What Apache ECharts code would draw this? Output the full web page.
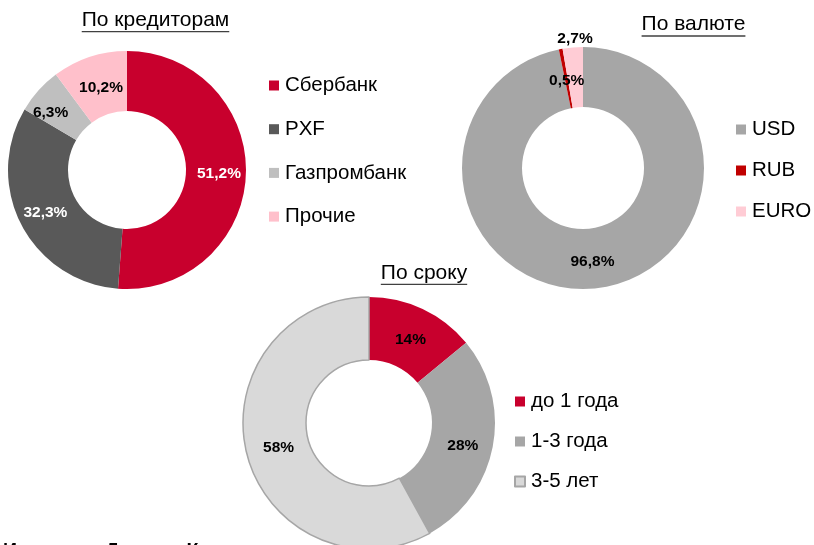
<!DOCTYPE html>
<html>
<head>
<meta charset="utf-8">
<script src="https://cdn.jsdelivr.net/npm/echarts@6/dist/echarts.min.js"></script>
<style>
  html, body { margin: 0; padding: 0; background: #fff; }
  #chart { width: 814px; height: 545px; }
</style>
</head>
<body>
<div id="chart"></div>
<script>
// данные
const creditorNames = ['Сбербанк', 'PXF', 'Газпромбанк', 'Прочие'];
const creditorValues = [51.2, 32.3, 6.3, 10.2];
const currencyNames = ['USD', 'RUB', 'EURO'];
const currencyValues = [96.8, 0.5, 2.7];
const termNames = ['до 1 года', '1-3 года', '3-5 лет'];
const termValues = [14, 28, 58];
const titles = ['По кредиторам', 'По валюте', 'По сроку'];
const sourceText = 'Источник: Данные Компании';

const FONT = "'Liberation Sans', Arial, sans-serif";
const titleSize = 21;

function pct(p) {
  return String(p.value).replace('.', ',') + '%';
}

// ширина текста для подчёркивания заголовка
function textWidth(t, size) {
  const ctx = document.createElement('canvas').getContext('2d');
  ctx.font = size + 'px ' + FONT;
  return ctx.measureText(t).width;
}

function donut(names, values, colors, center, radius, labelColors, extra) {
  return {
    type: 'pie',
    center: center,
    radius: radius,
    startAngle: 90,
    clockwise: true,
    silent: true,
    label: {
      show: true,
      position: 'inside',
      formatter: pct,
      fontFamily: FONT,
      fontWeight: 'bold',
      fontSize: 15.5,
    },
    labelLine: { show: false },
    emphasis: { disabled: true },
    data: names.map((n, i) => ({
      name: n,
      value: values[i],
      itemStyle: Object.assign({ color: colors[i], borderWidth: 0 }, (extra[i] || {}).itemStyle),
      label: Object.assign({ color: labelColors[i] }, (extra[i] || {}).label),
    })),
  };
}

function legend(names, left, top, gap) {
  return {
    data: names,
    orient: 'vertical',
    left: left,
    top: top,
    padding: 0,
    itemWidth: 10,
    itemHeight: 10,
    itemGap: gap,
    icon: 'rect',
    selectedMode: false,
    textStyle: { fontFamily: FONT, fontSize: 20.5, lineHeight: 20, color: '#000', padding: [0, 0, 0, 1] },
  };
}

function titleGraphic(t, cx, cy, uy) {
  const w = textWidth(t, titleSize);
  return [
    {
      type: 'text', x: cx, y: cy,
      style: { text: t, fill: '#000', font: titleSize + 'px ' + FONT, align: 'center', verticalAlign: 'middle' },
    },
    {
      type: 'line', shape: { x1: cx - w / 2, y1: uy, x2: cx + w / 2, y2: uy },
      style: { stroke: '#404040', lineWidth: 1.3 },
    },
  ];
}

const chart = echarts.init(document.getElementById('chart'), null, { renderer: 'canvas' });

const option = {
  animation: false,
  backgroundColor: '#fff',
  legend: [
    legend(creditorNames, 269, 75, 22.7),
    legend(currencyNames, 736, 119, 20),
    legend(termNames, 514, 391, 19),
  ],
  series: [
    donut(creditorNames, creditorValues,
      ['#C8002D', '#595959', '#BFBFBF', '#FFC0CB'],
      [127, 170], [59, 119],
      ['#fff', '#fff', '#000', '#000'],
      { 2: { label: { offset: [-8, 4] } }, 3: { label: { offset: [3, 5] } } }),
    donut(currencyNames, currencyValues,
      ['#A6A6A6', '#C00000', '#FFCCD5'],
      [583, 168], [61, 121],
      ['#000', '#000', '#000'],
      { 1: { label: { offset: [1, 5] } }, 2: { label: { offset: [0, -36] } } }),
    donut(termNames, termValues,
      ['#C8002D', '#A6A6A6', '#D9D9D9'],
      [369, 423], [63, 126],
      ['#000', '#000', '#000'],
      {
        0: { label: { offset: [0, 5] } },
        1: { label: { offset: [-2, 4] } },
        2: { itemStyle: { borderColor: '#A6A6A6', borderWidth: 1.5 }, label: { offset: [4, 0] } },
      }),
  ],
  graphic: [].concat(
    titleGraphic(titles[0], 155.5, 20, 31.7),
    titleGraphic(titles[1], 693.5, 24.7, 36),
    titleGraphic(titles[2], 424, 273.3, 284.3),
    [{
      type: 'text', x: 3, y: 542,
      style: { text: sourceText, fill: '#000', font: 'bold 19.5px ' + FONT, verticalAlign: 'top' },
    }]
  ),
};

chart.setOption(option);
</script>
</body>
</html>
